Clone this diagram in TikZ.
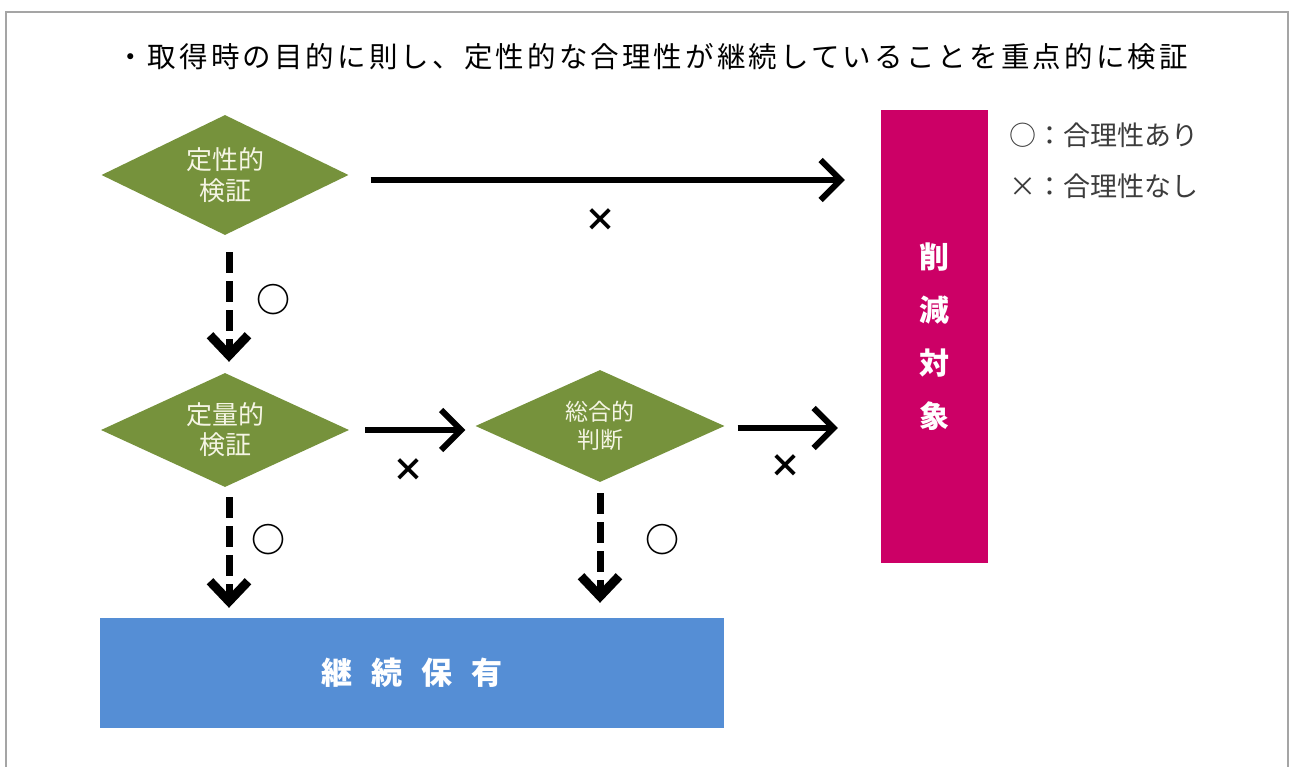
\documentclass[tikz,border=0pt]{standalone}
\usepackage{fontspec}
\newfontfamily\jp{Noto Sans CJK JP}
\newfontfamily\jptitle[LetterSpace=11]{Noto Sans CJK JP}
\usetikzlibrary{shapes.geometric,arrows.meta}
\definecolor{olivegr}{RGB}{118,146,60}
\definecolor{magbox}{RGB}{204,0,102}
\definecolor{bluebox}{RGB}{85,142,213}
\definecolor{framegray}{RGB}{165,165,165}
\definecolor{legendtext}{RGB}{60,60,60}
\definecolor{diatext}{RGB}{245,245,228}
\begin{document}
\begin{tikzpicture}[x=1pt,y=-1pt,
  dia/.style={diamond, shape aspect=2.2, fill=olivegr, inner sep=0pt, text=diatext, align=center},
  solidarr/.style={line width=6pt, -{Straight Barb[length=20pt,width=40pt]}},
  dasharr/.style={line width=7pt, dash pattern=on 21pt off 8pt, -{Straight Barb[length=20pt,width=38pt,line width=9pt]}},
  xlab/.style={font=\jp\bfseries\fontsize{32}{32}\selectfont},
  olab/.style={font=\jp\bfseries\fontsize{34}{34}\selectfont},
  legend/.style={anchor=west, text=legendtext, font=\jp\fontsize{27}{27}\selectfont}
]
\clip (0,0) rectangle (1292,767);
\fill[white] (0,0) rectangle (1292,767);
\draw[framegray, line width=2pt] (6,780) -- (6,12) -- (1288,12) -- (1288,780);

\node[font=\jptitle\fontsize{28.5}{28.5}\selectfont] (title) at (652,57) {・取得時の目的に則し、定性的な合理性が継続していることを重点的に検証};

\node[dia, minimum width=247pt, minimum height=120pt, font=\jp\fontsize{26}{31}\selectfont] (d1) at (225,175) {定性的\\検証};
\node[dia, minimum width=248pt, minimum height=114pt, font=\jp\fontsize{26}{30}\selectfont] (d2) at (225,430) {定量的\\検証};
\node[dia, minimum width=249pt, minimum height=112pt, font=\jp\fontsize{23}{28}\selectfont] (d3) at (600,426) {総合的\\判断};

\node[fill=magbox, minimum width=107pt, minimum height=453pt, inner sep=0pt, text=white, align=center, font=\jp\bfseries\fontsize{30}{53}\selectfont] (cut) at (934.5,336.5) {削\\減\\対\\象};

\node[fill=bluebox, minimum width=624pt, minimum height=110pt, inner sep=0pt, text=white, font=\jp\bfseries\fontsize{31}{31}\selectfont] (keep) at (412,673) {継\hspace{19pt}続\hspace{19pt}保\hspace{19pt}有};

\node[legend] (l1) at (1006,135) {○：合理性あり};
\node[legend] (l2) at (1006,186) {×：合理性なし};

% solid arrows
\coordinate (a1s) at ([yshift=-5pt]d1.east);
\draw[solidarr, shorten <=22pt, shorten >=36pt] (a1s) -- (a1s -| cut.west);
\draw[solidarr, shorten <=16pt, shorten >=10pt] (d2.east) -- (d2.east -| d3.west);
\coordinate (a3s) at ([yshift=-2pt]d3.east);
\draw[solidarr, shorten <=13pt, shorten >=43pt] (a3s) -- (a3s -| cut.west);

% dashed arrows
\coordinate (b1s) at ([xshift=4pt]d1.south);
\draw[dasharr, shorten <=17pt, shorten >=11pt] (b1s) -- (b1s |- d2.north);
\coordinate (b2s) at ([xshift=4pt]d2.south);
\draw[dasharr, shorten <=10pt, shorten >=10pt] (b2s) -- (b2s |- keep.north);
\draw[dasharr, shorten <=11pt, shorten >=15pt] (d3.south) -- (d3.south |- keep.north);

% labels
\node[xlab] (x1) at (600,220) {×};
\node[xlab] (x2) at (408,470) {×};
\node[xlab] (x3) at (785,466) {×};
\node[olab] (o1) at (273,300) {○};
\node[olab] (o2) at (268,540) {○};
\node[olab] (o3) at (662,540) {○};
\end{tikzpicture}
\end{document}
